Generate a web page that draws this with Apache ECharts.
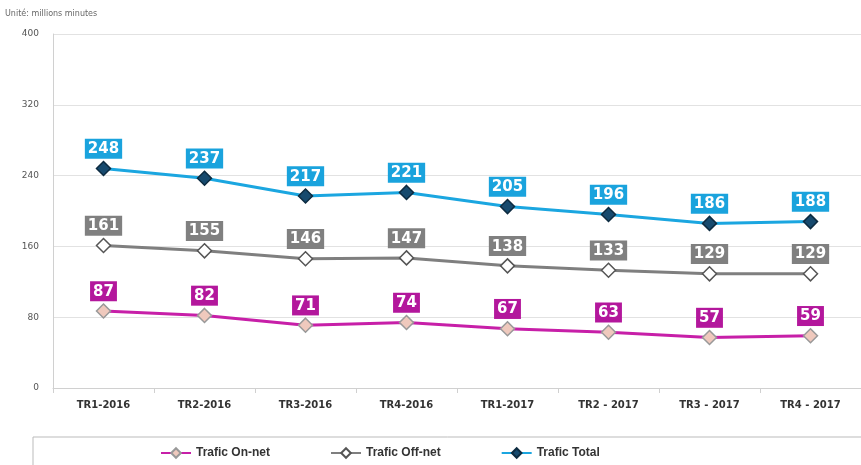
<!DOCTYPE html>
<html>
<head>
<meta charset="utf-8">
<script src="https://cdn.jsdelivr.net/npm/echarts@6/dist/echarts.min.js"></script>
<style>
  html, body { margin: 0; padding: 0; background: #fff; }
  #chart { width: 861px; height: 465px; }
</style>
</head>
<body>
<div id="chart"></div>
<script>
var quarters = ['TR1-2016', 'TR2-2016', 'TR3-2016', 'TR4-2016', 'TR1-2017', 'TR2 - 2017', 'TR3 - 2017', 'TR4 - 2017'];
var onNet = [87, 82, 71, 74, 67, 63, 57, 59];
var offNet = [161, 155, 146, 147, 138, 133, 129, 129];
var total = [248, 237, 217, 221, 205, 196, 186, 188];

function makeSeries(name, data, lineColor, labelBg, markColor, markBorder) {
  return {
    name: name,
    type: 'line',
    data: data,
    symbol: 'diamond',
    symbolSize: 14,
    lineStyle: { color: lineColor, width: 3 },
    itemStyle: { color: markColor, borderColor: markBorder, borderWidth: 1.5 },
    label: {
      show: true,
      position: 'top',
      distance: 2,
      color: '#fff',
      fontWeight: 'bold',
      fontSize: 15,
      fontFamily: 'DejaVu Sans',
      backgroundColor: labelBg,
      padding: [3, 3, 2, 3]
    },
    emphasis: { disabled: true }
  };
}

var chart = echarts.init(document.getElementById('chart'));
var option = {
  animation: false,
  graphic: [
    {
      type: 'text', left: 5, top: 10,
      style: { text: 'Unité: millions minutes', fill: '#666', font: '8px "DejaVu Sans"' }
    },
    {
      type: 'rect', shape: { x: 33, y: 437, width: 840, height: 40 },
      style: { fill: 'none', stroke: '#bbb', lineWidth: 1 }
    }
  ],
  grid: { left: 53, top: 34, width: 814, bottom: 77, containLabel: false },
  legend: {
    top: 442,
    left: 155,
    itemGap: 60,
    itemWidth: 30,
    itemHeight: 12,
    textStyle: { color: '#333', fontWeight: 'bold', fontSize: 12, fontFamily: 'Liberation Sans' },
    data: ['Trafic On-net', 'Trafic Off-net', 'Trafic Total']
  },
  xAxis: {
    type: 'category',
    data: quarters,
    axisLine: { lineStyle: { color: '#d0d0d0' } },
    axisTick: { show: true, lineStyle: { color: '#d0d0d0' } },
    axisLabel: { color: '#333', fontWeight: 'bold', fontSize: 10, fontFamily: 'DejaVu Sans', margin: 12 }
  },
  yAxis: {
    type: 'value',
    min: 0, max: 400, interval: 80,
    axisLine: { show: true, lineStyle: { color: '#d0d0d0' } },
    axisTick: { show: false },
    splitLine: { lineStyle: { color: '#e2e2e2' } },
    axisLabel: { color: '#555', fontSize: 9, fontFamily: 'DejaVu Sans', margin: 14 }
  },
  series: [
    makeSeries('Trafic On-net', onNet, '#c71fa8', '#b3179c', '#efc9bd', '#999'),
    makeSeries('Trafic Off-net', offNet, '#7f7f7f', '#808080', '#ffffff', '#555'),
    makeSeries('Trafic Total', total, '#1ba6e0', '#1aa3dd', '#174a6e', '#0d2b40')
  ]
};
chart.setOption(option);
</script>
</body>
</html>
